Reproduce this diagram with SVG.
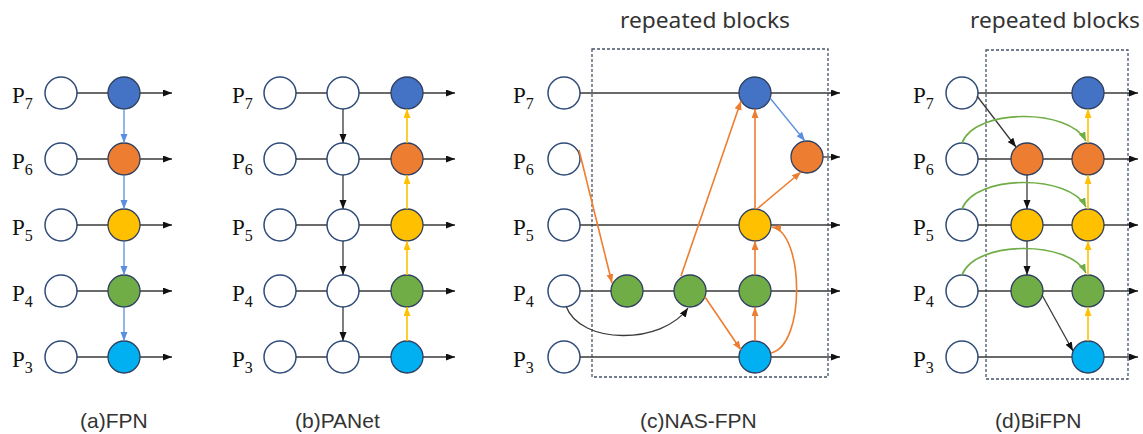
<svg xmlns="http://www.w3.org/2000/svg" width="1143" height="434" viewBox="0 0 1143 434">
<style>
.in{fill:#fff;stroke:#2f4b78;stroke-width:1.5}
.n{stroke:#2f3f5f;stroke-width:1.3}
.b{fill:#4472c4}.o{fill:#ed7d31}.y{fill:#ffc000}.g{fill:#70ad47}.c{fill:#00b0f0}
.k{stroke:#3a3a3a;stroke-width:1.3;fill:none;marker-end:url(#mk)}
.kb{stroke:#5b8ee0;stroke-width:1.3;fill:none;marker-end:url(#mb)}
.ky{stroke:#ffc000;stroke-width:1.6;fill:none;marker-end:url(#my)}
.ko{stroke:#ed7d31;stroke-width:1.6;fill:none;marker-end:url(#mo)}
.kg{stroke:#70ad47;stroke-width:1.6;fill:none;marker-end:url(#mg)}
.box{fill:none;stroke:#44546a;stroke-width:1.3;stroke-dasharray:3 2}
.p{font-family:"Liberation Serif",serif;font-size:23px;fill:#111}
.s{font-size:16px}
.cap{font-family:"Liberation Sans",Arial,sans-serif;font-size:21px;fill:#333}
.rb{font-family:"Noto Sans","Liberation Sans",sans-serif;font-size:21px;fill:#333}
</style>
<defs>
<marker id="mk" markerUnits="userSpaceOnUse" markerWidth="10" markerHeight="8" refX="9" refY="3.5" orient="auto"><path d="M0,0L9,3.5L0,7z" fill="#111"/></marker>
<marker id="mb" markerUnits="userSpaceOnUse" markerWidth="10" markerHeight="8" refX="9" refY="3.5" orient="auto"><path d="M0,0L9,3.5L0,7z" fill="#5b8ee0"/></marker>
<marker id="my" markerUnits="userSpaceOnUse" markerWidth="10" markerHeight="8" refX="9" refY="3.5" orient="auto"><path d="M0,0L9,3.5L0,7z" fill="#ffc000"/></marker>
<marker id="mo" markerUnits="userSpaceOnUse" markerWidth="10" markerHeight="8" refX="9" refY="3.5" orient="auto"><path d="M0,0L9,3.5L0,7z" fill="#ed7d31"/></marker>
<marker id="mg" markerUnits="userSpaceOnUse" markerWidth="10" markerHeight="8" refX="9" refY="3.5" orient="auto"><path d="M0,0L9,3.5L0,7z" fill="#70ad47"/></marker>
</defs>
<rect width="1143" height="434" fill="#fff"/>

<g id="labels">
<text class="p" x="12" y="103">P<tspan class="s" dy="6">7</tspan></text>
<text class="p" x="12" y="169">P<tspan class="s" dy="6">6</tspan></text>
<text class="p" x="12" y="235">P<tspan class="s" dy="6">5</tspan></text>
<text class="p" x="12" y="301">P<tspan class="s" dy="6">4</tspan></text>
<text class="p" x="12" y="367">P<tspan class="s" dy="6">3</tspan></text>
<text class="p" x="232" y="103">P<tspan class="s" dy="6">7</tspan></text>
<text class="p" x="232" y="169">P<tspan class="s" dy="6">6</tspan></text>
<text class="p" x="232" y="235">P<tspan class="s" dy="6">5</tspan></text>
<text class="p" x="232" y="301">P<tspan class="s" dy="6">4</tspan></text>
<text class="p" x="232" y="367">P<tspan class="s" dy="6">3</tspan></text>
<text class="p" x="513" y="103">P<tspan class="s" dy="6">7</tspan></text>
<text class="p" x="513" y="169">P<tspan class="s" dy="6">6</tspan></text>
<text class="p" x="513" y="235">P<tspan class="s" dy="6">5</tspan></text>
<text class="p" x="513" y="301">P<tspan class="s" dy="6">4</tspan></text>
<text class="p" x="513" y="367">P<tspan class="s" dy="6">3</tspan></text>
<text class="p" x="913" y="103">P<tspan class="s" dy="6">7</tspan></text>
<text class="p" x="913" y="169">P<tspan class="s" dy="6">6</tspan></text>
<text class="p" x="913" y="235">P<tspan class="s" dy="6">5</tspan></text>
<text class="p" x="913" y="301">P<tspan class="s" dy="6">4</tspan></text>
<text class="p" x="913" y="367">P<tspan class="s" dy="6">3</tspan></text>
<text class="rb" x="620" y="28" textLength="170" lengthAdjust="spacingAndGlyphs">repeated blocks</text>
<text class="rb" x="970" y="28" textLength="170" lengthAdjust="spacingAndGlyphs">repeated blocks</text>
<text class="cap" x="80" y="428">(a)FPN</text>
<text class="cap" x="295" y="428">(b)PANet</text>
<text class="cap" x="640" y="428">(c)NAS-FPN</text>
<text class="cap" x="995" y="428">(d)BiFPN</text>
</g>

<g id="boxes">
<rect class="box" x="592" y="49" width="236" height="328"/>
<rect class="box" x="986" y="50" width="142" height="329"/>
</g>

<g id="nodes-a">
<circle id="a-in7" class="in" cx="61" cy="93" r="16"/>
<circle id="a-in6" class="in" cx="61" cy="159" r="16"/>
<circle id="a-in5" class="in" cx="61" cy="225" r="16"/>
<circle id="a-in4" class="in" cx="61" cy="291" r="16"/>
<circle id="a-in3" class="in" cx="61" cy="357" r="16"/>
<circle id="a-p7" class="n b" cx="124" cy="93" r="16"/>
<circle id="a-p6" class="n o" cx="124" cy="159" r="16"/>
<circle id="a-p5" class="n y" cx="124" cy="225" r="16"/>
<circle id="a-p4" class="n g" cx="124" cy="291" r="16"/>
<circle id="a-p3" class="n c" cx="124" cy="357" r="16"/>
</g>

<g id="nodes-b">
<circle id="b-in7" class="in" cx="280" cy="93" r="16"/>
<circle id="b-in6" class="in" cx="280" cy="159" r="16"/>
<circle id="b-in5" class="in" cx="280" cy="225" r="16"/>
<circle id="b-in4" class="in" cx="280" cy="291" r="16"/>
<circle id="b-in3" class="in" cx="280" cy="357" r="16"/>
<circle id="b-m7" class="in" cx="343" cy="93" r="16"/>
<circle id="b-m6" class="in" cx="343" cy="159" r="16"/>
<circle id="b-m5" class="in" cx="343" cy="225" r="16"/>
<circle id="b-m4" class="in" cx="343" cy="291" r="16"/>
<circle id="b-m3" class="in" cx="343" cy="357" r="16"/>
<circle id="b-p7" class="n b" cx="407" cy="93" r="16"/>
<circle id="b-p6" class="n o" cx="407" cy="159" r="16"/>
<circle id="b-p5" class="n y" cx="407" cy="225" r="16"/>
<circle id="b-p4" class="n g" cx="407" cy="291" r="16"/>
<circle id="b-p3" class="n c" cx="407" cy="357" r="16"/>
</g>

<g id="nodes-c">
<circle id="c-in7" class="in" cx="564" cy="93" r="16"/>
<circle id="c-in6" class="in" cx="564" cy="159" r="16"/>
<circle id="c-in5" class="in" cx="564" cy="225" r="16"/>
<circle id="c-in4" class="in" cx="564" cy="291" r="16"/>
<circle id="c-in3" class="in" cx="564" cy="357" r="16"/>
<circle id="c-g1" class="n g" cx="627" cy="291" r="16"/>
<circle id="c-g2" class="n g" cx="690" cy="291" r="16"/>
<circle id="c-p7" class="n b" cx="755" cy="93" r="16"/>
<circle id="c-p6" class="n o" cx="807" cy="157" r="16"/>
<circle id="c-p5" class="n y" cx="755" cy="225" r="16"/>
<circle id="c-p4" class="n g" cx="755" cy="291" r="16"/>
<circle id="c-p3" class="n c" cx="755" cy="357" r="16"/>
</g>

<g id="nodes-d">
<circle id="d-in7" class="in" cx="962" cy="93" r="16"/>
<circle id="d-in6" class="in" cx="962" cy="159" r="16"/>
<circle id="d-in5" class="in" cx="962" cy="225" r="16"/>
<circle id="d-in4" class="in" cx="962" cy="291" r="16"/>
<circle id="d-in3" class="in" cx="962" cy="357" r="16"/>
<circle id="d-m6" class="n o" cx="1027" cy="159" r="16"/>
<circle id="d-m5" class="n y" cx="1027" cy="225" r="16"/>
<circle id="d-m4" class="n g" cx="1027" cy="291" r="16"/>
<circle id="d-p7" class="n b" cx="1088" cy="93" r="16"/>
<circle id="d-p6" class="n o" cx="1088" cy="159" r="16"/>
<circle id="d-p5" class="n y" cx="1088" cy="225" r="16"/>
<circle id="d-p4" class="n g" cx="1088" cy="291" r="16"/>
<circle id="d-p3" class="n c" cx="1088" cy="357" r="16"/>
</g>

<g id="connectors">
<!-- (a) -->
<path class="k" d="M77,93H108M140,93H172"/>
<path class="k" d="M77,159H108M140,159H172"/>
<path class="k" d="M77,225H108M140,225H172"/>
<path class="k" d="M77,291H108M140,291H172"/>
<path class="k" d="M77,357H108M140,357H172"/>
<path class="kb" d="M124,109V143"/>
<path class="kb" d="M124,175V209"/>
<path class="kb" d="M124,241V275"/>
<path class="kb" d="M124,307V341"/>
<!-- (b) -->
<path class="k" d="M296,93H327M359,93H391M423,93H455"/>
<path class="k" d="M296,159H327M359,159H391M423,159H455"/>
<path class="k" d="M296,225H327M359,225H391M423,225H455"/>
<path class="k" d="M296,291H327M359,291H391M423,291H455"/>
<path class="k" d="M296,357H327M359,357H391M423,357H455"/>
<path class="k" d="M343,109V143"/>
<path class="k" d="M343,175V209"/>
<path class="k" d="M343,241V275"/>
<path class="k" d="M343,307V341"/>
<path class="ky" d="M407,341V307"/>
<path class="ky" d="M407,275V241"/>
<path class="ky" d="M407,209V175"/>
<path class="ky" d="M407,143V109"/>
<!-- (c) -->
<path class="k" d="M580,93H739M771,93H840"/>
<path class="k" d="M823,157H840"/>
<path class="k" d="M580,225H739M771,225H840"/>
<path class="k" d="M580,291H611M643,291H674M706,291H739M771,291H840"/>
<path class="k" d="M580,357H739M771,357H840"/>
<path class="k" d="M566,306C580,345 662,345 688,308"/>
<path class="ko" d="M579,150L612,283"/>
<path class="ko" d="M681,276L741,101"/>
<path class="ko" d="M705,297L741,350"/>
<path class="ko" d="M755,341V307"/>
<path class="ko" d="M755,275V241"/>
<path class="ko" d="M755,209V109"/>
<path class="ko" d="M757,209L801,172"/>
<path class="ko" d="M771,353C806,345 804,232 772,227"/>
<path class="kb" d="M770,98L805,141"/>
<!-- (d) -->
<path class="k" d="M978,93H1072M1104,93H1138"/>
<path class="k" d="M978,159H1011M1043,159H1072M1104,159H1138"/>
<path class="k" d="M978,225H1011M1043,225H1072M1104,225H1138"/>
<path class="k" d="M978,291H1011M1043,291H1072M1104,291H1138"/>
<path class="k" d="M978,357H1072M1104,357H1138"/>
<path class="k" d="M977,96L1016,147"/>
<path class="k" d="M1042,295L1073,351"/>
<path class="k" d="M1027,175V209"/>
<path class="k" d="M1027,241V275"/>
<path class="ky" d="M1088,341V307"/>
<path class="ky" d="M1088,275V241"/>
<path class="ky" d="M1088,209V175"/>
<path class="ky" d="M1088,143V109"/>
<path class="kg" d="M962,143C975,108 1070,108 1086,141"/>
<path class="kg" d="M962,209C975,174 1070,174 1086,207"/>
<path class="kg" d="M962,275C975,240 1070,240 1086,273"/>
</g>
</svg>
